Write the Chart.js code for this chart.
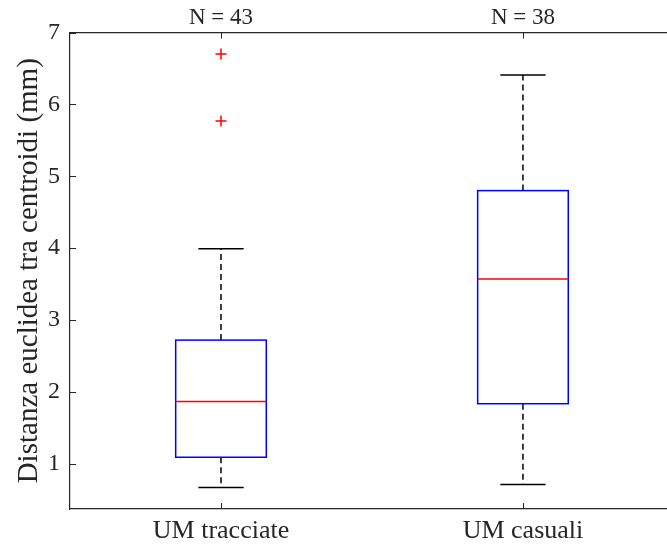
<!DOCTYPE html>
<html>
<head>
<meta charset="utf-8">
<script src="https://cdn.jsdelivr.net/npm/chart.js@4.4.1/dist/chart.umd.min.js"></script>
<style>
  html, body { margin: 0; padding: 0; background: #fff; overflow: hidden; }
  #wrap { width: 667px; height: 547px; }
</style>
</head>
<body>
<div id="wrap"><canvas id="boxChart"></canvas></div>
<script>
// Box plot data (mm)
const groups = ['UM tracciate', 'UM casuali'];
const groupCounts = [43, 38];
const whiskerLow = [0.67, 0.71];
const q1 = [1.09, 1.835];
const medians = [1.865, 3.57];
const q3 = [2.72, 4.80];
const whiskerHigh = [3.99, 6.41];
const outliers = [[5.77, 6.70], []];
const yTicks = [1, 2, 3, 4, 5, 6, 7];

Chart.defaults.font.family = "'Liberation Serif', 'DejaVu Serif', serif";
Chart.defaults.color = '#262626';

const AXIS = '#262626';
const BOX_HALF = 0.15;   // in x units
const CAP_HALF = 0.075;

const outlierPoints = [];
outliers.forEach((arr, i) => arr.forEach(v => outlierPoints.push({ x: i + 1, y: v })));

// draws the boxes, whiskers and medians through the chart scales
const boxPlugin = {
    id: 'boxPlugin',
    afterDatasetsDraw: (chart) => {
        const { ctx, scales: { x, y } } = chart;
        ctx.save();
        groups.forEach((g, i) => {
            const cx = x.getPixelForValue(i + 1);
            const bl = x.getPixelForValue(i + 1 - BOX_HALF);
            const br = x.getPixelForValue(i + 1 + BOX_HALF);
            const cl = x.getPixelForValue(i + 1 - CAP_HALF);
            const cr = x.getPixelForValue(i + 1 + CAP_HALF);
            const yLo = y.getPixelForValue(whiskerLow[i]);
            const yQ1 = y.getPixelForValue(q1[i]);
            const yMed = y.getPixelForValue(medians[i]);
            const yQ3 = y.getPixelForValue(q3[i]);
            const yHi = y.getPixelForValue(whiskerHigh[i]);

            // whiskers (dashed)
            ctx.strokeStyle = '#000';
            ctx.lineWidth = 1.5;
            ctx.setLineDash([6, 4]);
            ctx.beginPath();
            ctx.moveTo(cx, yQ3); ctx.lineTo(cx, yHi);
            ctx.moveTo(cx, yQ1); ctx.lineTo(cx, yLo);
            ctx.stroke();

            // caps
            ctx.setLineDash([]);
            ctx.beginPath();
            ctx.moveTo(cl, yHi); ctx.lineTo(cr, yHi);
            ctx.moveTo(cl, yLo); ctx.lineTo(cr, yLo);
            ctx.stroke();

            // box
            ctx.strokeStyle = '#0000ff';
            ctx.strokeRect(bl, yQ3, br - bl, yQ1 - yQ3);

            // median
            ctx.strokeStyle = '#ff0000';
            ctx.beginPath();
            ctx.moveTo(bl, yMed); ctx.lineTo(br, yMed);
            ctx.stroke();
        });

        // inward tick marks
        const area = chart.chartArea;
        ctx.strokeStyle = AXIS;
        ctx.lineWidth = 1;
        ctx.beginPath();
        yTicks.forEach(v => {
            const py = Math.round(y.getPixelForValue(v)) + 0.5;
            ctx.moveTo(area.left, py); ctx.lineTo(area.left + 6, py);
        });
        groups.forEach((g, i) => {
            const px = Math.round(x.getPixelForValue(i + 1)) + 0.5;
            ctx.moveTo(px, area.top); ctx.lineTo(px, area.top + 6);
            ctx.moveTo(px, area.bottom); ctx.lineTo(px, area.bottom - 6);
        });
        ctx.stroke();
        ctx.restore();
    }
};

// the axes box runs past the right edge of the figure
const xMin = 0.5, xMax = 2.477;

new Chart(document.getElementById('boxChart').getContext('2d'), {
    type: 'scatter',
    data: {
        datasets: [{
            label: 'outliers',
            data: outlierPoints,
            pointStyle: 'cross',
            radius: 5.5,
            borderColor: '#ff0000',
            borderWidth: 1.5,
            backgroundColor: '#ff0000'
        }]
    },
    options: {
        responsive: true,
        maintainAspectRatio: false,
        animation: false,
        layout: { padding: 0, autoPadding: false },
        plugins: { legend: { display: false }, tooltip: { enabled: false } },
        scales: {
            x: {
                type: 'linear', position: 'bottom', min: xMin, max: xMax,
                afterBuildTicks: (s) => { s.ticks = groups.map((g, i) => ({ value: i + 1 })); },
                afterFit: (s) => { s.height = 38; },
                grid: { display: false, drawTicks: false },
                border: { color: AXIS, width: 1.2 },
                ticks: { padding: 7, maxRotation: 0, autoSkip: false, font: { size: 26 }, callback: (v) => groups[v - 1] }
            },
            x2: {
                type: 'linear', position: 'top', min: xMin, max: xMax,
                afterBuildTicks: (s) => { s.ticks = groups.map((g, i) => ({ value: i + 1 })); },
                afterFit: (s) => { s.height = 32.5; },
                grid: { display: false, drawTicks: false },
                border: { color: AXIS, width: 1.2 },
                ticks: { padding: 1, maxRotation: 0, autoSkip: false, font: { size: 23 }, callback: (v) => 'N = ' + groupCounts[v - 1] }
            },
            y: {
                min: 0.37, max: 7,
                afterBuildTicks: (s) => { s.ticks = yTicks.map(v => ({ value: v })); },
                afterFit: (s) => { s.width = 70; },
                grid: { display: false, drawTicks: false },
                border: { color: AXIS, width: 1.2 },
                ticks: { padding: 10, font: { size: 24 } },
                title: { display: true, text: 'Distanza euclidea tra centroidi (mm)', font: { size: 29 }, padding: { top: 12, bottom: 0 } }
            }
        }
    },
    plugins: [boxPlugin]
});
</script>
</body>
</html>
